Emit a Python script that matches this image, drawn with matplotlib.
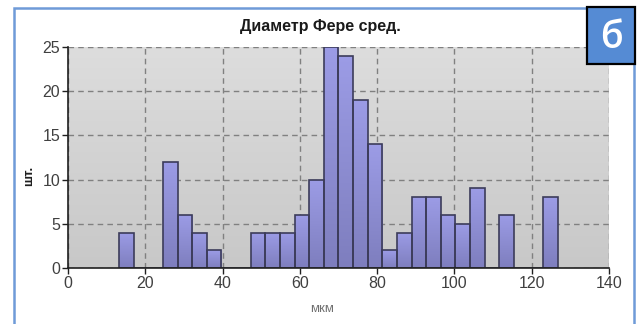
import numpy as np
import matplotlib
matplotlib.use("Agg")
import matplotlib.pyplot as plt
import matplotlib.patches as patches
from matplotlib.colors import LinearSegmentedColormap

plt.rcParams['font.family'] = ['Liberation Sans', 'DejaVu Sans']

# гистограмма: первая граница, ширина интервала, число частиц в интервале
bin_start = 13.2
bin_width = 3.785
counts = [4, 0, 0, 12, 6, 4, 2, 0, 0, 4, 4, 4, 6, 10, 25, 24, 19, 14,
          2, 4, 8, 8, 6, 5, 9, 0, 6, 0, 0, 8]
xticks = [0, 20, 40, 60, 80, 100, 120, 140]
yticks = [0, 5, 10, 15, 20, 25]

W, H = 638, 324
fig = plt.figure(figsize=(W / 100, H / 100), dpi=100)
ax = fig.add_axes([68 / W, 1 - 268 / H, (609 - 68) / W, (268 - 47) / H])

# фон с градиентом
bg = np.linspace(0, 1, 256).reshape(-1, 1)
bg_cmap = LinearSegmentedColormap.from_list('bg', ['#c8c8c8', '#dddddd'])
ax.imshow(bg, extent=[0, 140, 0, 25], origin='lower', aspect='auto',
          cmap=bg_cmap, zorder=0)

ax.grid(True, color='#808080', linestyle=(0, (4, 3)), linewidth=1.0, zorder=1)

lefts = bin_start + bin_width * np.arange(len(counts))
bars = ax.bar(lefts, counts, width=bin_width, align='edge',
              facecolor='none', edgecolor='#3c3c5a', linewidth=1.2, zorder=3)

bar_cmap = LinearSegmentedColormap.from_list('bar', ['#7e7ebe', '#9c9ce6'])
grad = np.linspace(0, 1, 256).reshape(-1, 1)
for b, c in zip(bars, counts):
    if c == 0:
        continue
    x0 = b.get_x()
    im = ax.imshow(grad, extent=[x0, x0 + bin_width, 0, c], origin='lower',
                   aspect='auto', cmap=bar_cmap, zorder=2)
    im.set_clip_path(b)

ax.set_xlim(0, 140)
ax.set_ylim(0, 25)
ax.set_xticks(xticks)
ax.set_yticks(yticks)
for s in ['top', 'right']:
    ax.spines[s].set_visible(False)
for s in ['left', 'bottom']:
    ax.spines[s].set_color('#202020')
    ax.spines[s].set_linewidth(1.2)
    ax.spines[s].set_zorder(4)
ax.tick_params(length=4, width=1, color='#202020', labelsize=11.5,
               labelcolor='#404040', pad=1.5)

fig.text(320 / W, 1 - 26 / H, 'Диаметр Фере сред.', ha='center', va='center',
         fontsize=11.5, fontweight='bold', color='#1a1a1a')
fig.text(29 / W, 1 - 176 / H, 'шт.', rotation=90, ha='center', va='center',
         fontsize=9.5, fontweight='bold', color='#202020')
fig.text(322 / W, 1 - 309 / H, 'мкм', ha='center', va='center',
         fontsize=9.5, color='#707070')

# рамка
frame = patches.Rectangle((14 / W, -0.05), (634 - 14) / W, 1.05 - 8 / H,
                          transform=fig.transFigure, fill=False,
                          edgecolor='#6f9bd8', linewidth=1.8)
fig.add_artist(frame)

# значок "б"
badge = patches.Rectangle((587 / W, 1 - 64 / H), (635 - 587) / W, (64 - 7) / H,
                          transform=fig.transFigure, facecolor='#558bd4',
                          edgecolor='black', linewidth=1.6)
fig.add_artist(badge)
fig.text(611 / W, 1 - 38 / H, 'б', ha='center', va='center', fontsize=27,
         fontweight='semibold', color='white', family=['Open Sans', 'DejaVu Sans'])

fig.savefig('out.png', dpi=100)
